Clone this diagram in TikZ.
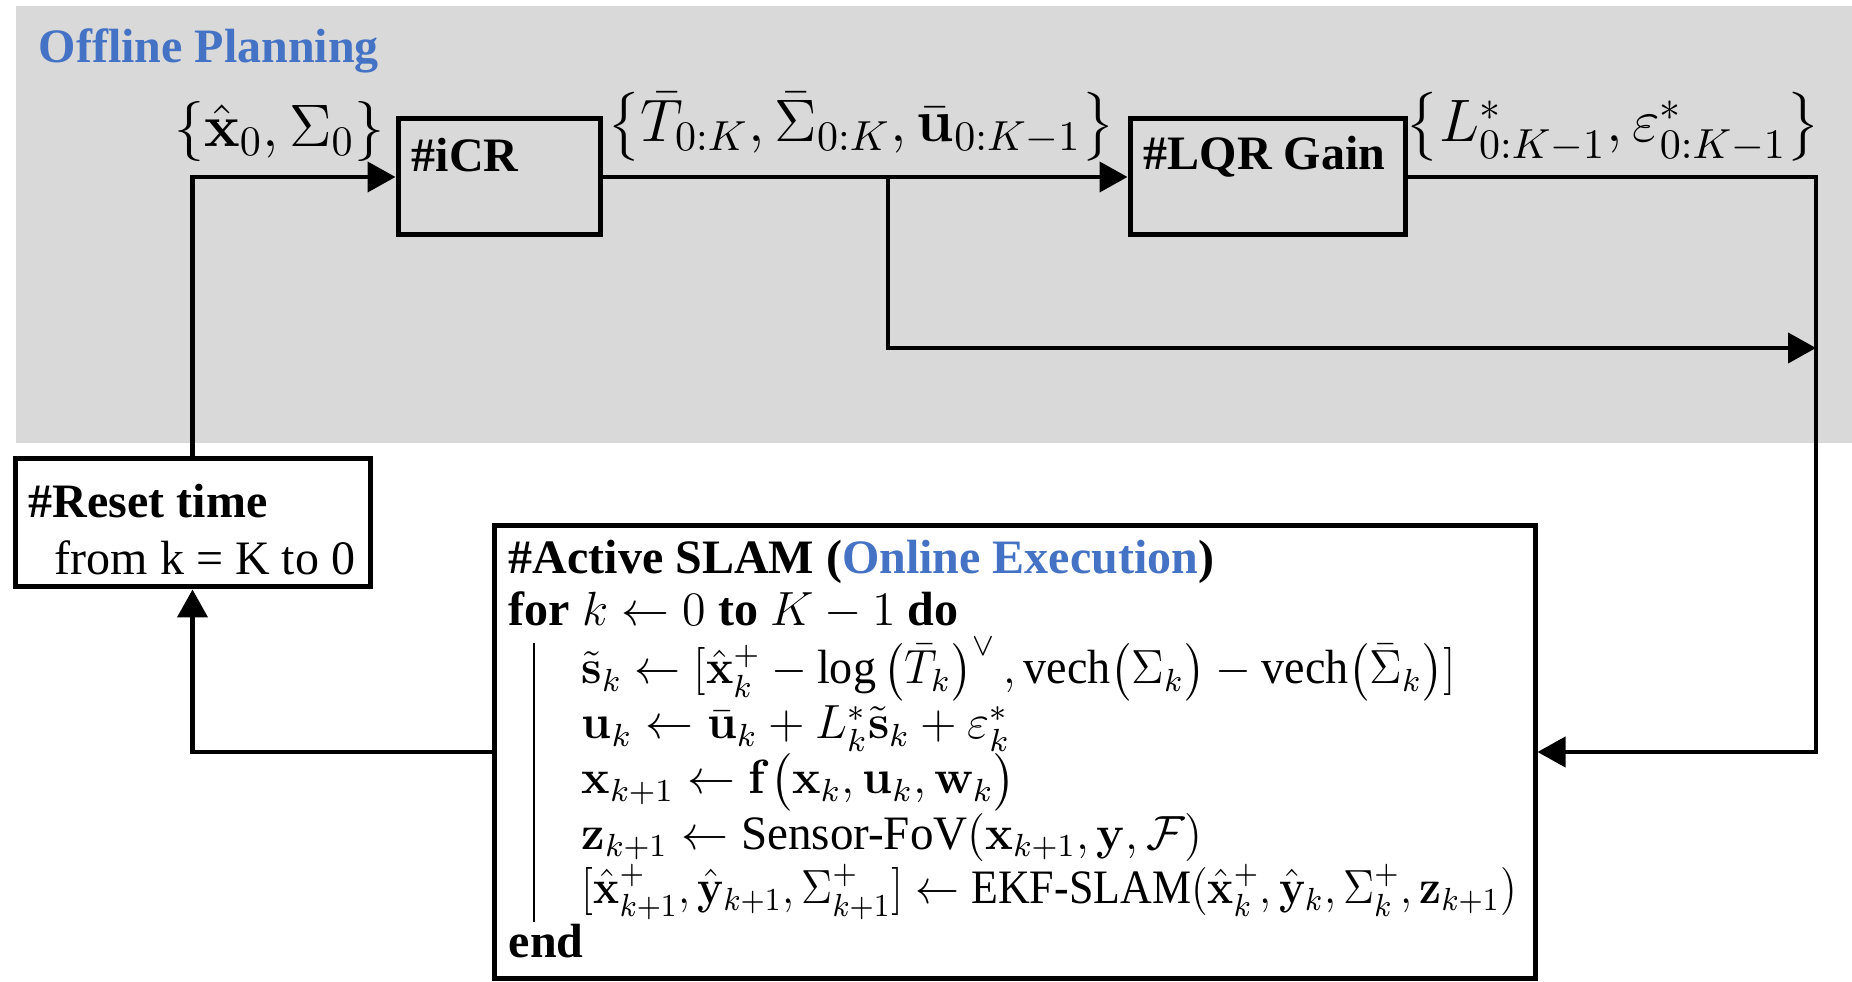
\documentclass[tikz,border=0pt]{standalone}
\usepackage{fix-cm}
\usepackage{amsmath}
\usepackage{graphicx}
\usepackage[no-math]{fontspec}
\setmainfont{Liberation Serif}
\usetikzlibrary{arrows.meta}
\definecolor{ofblue}{RGB}{68,114,196}
\definecolor{bggray}{RGB}{217,217,217}
\begin{document}
\begin{tikzpicture}[x=0.25pt,y=-0.25pt,
  box/.style={draw=black,line width=1.25pt,inner sep=0pt},
  conn/.style={line width=1.05pt},
  arr/.style={conn,-{Triangle[length=7pt,width=7.5pt]}},
  txt/.style={inner sep=0pt,anchor=base west,font=\fontsize{12pt}{14pt}\selectfont},
  lbl/.style={inner sep=0pt,font=\fontsize{15pt}{18pt}\selectfont}]
\useasboundingbox (0,0) rectangle (1852,982);
\fill[bggray] (16,6) rectangle (1852,443);
\node[txt,text=ofblue] (offtitle) at (38,63) {\bfseries Offline Planning};
% boxes
\node[box,minimum width=50.5pt,minimum height=29pt] (icr) at (499,177) {};
\node[box,minimum width=68.75pt,minimum height=29pt] (lqr) at (1267.5,177) {};
\node[box,fill=white,minimum width=88.75pt,minimum height=32pt] (reset) at (192.5,523) {};
\node[box,fill=white,minimum width=260.25pt,minimum height=113pt] (slam) at (1014.5,752) {};
% box texts
\node[txt] (icrtxt) at (411,172) {\bfseries\#iCR};
\node[txt] (lqrtxt) at (1143,170) {\bfseries\#LQR Gain};
\node[txt] (resettxt) at (28,518) {\bfseries\#Reset time};
\node[txt] (resetfrom) at (54,575) {from k = K to 0};
\node[txt] (slamtitle) at (508,574) {\bfseries\#Active SLAM (\textcolor{ofblue}{Online Execution})};
\node[txt] (slamfor) at (508,626) {\textbf{for} $k \leftarrow 0$ \textbf{to} $K-1$ \textbf{do}};
\node[txt] (ls) at (581,684) {\scalebox{0.96}[1]{$\tilde{\mathbf{s}}_k \leftarrow [\hat{\mathbf{x}}_k^{+} - \text{log}\left(\bar{T}_k\right)^{\vee}, \text{vech}\bigl(\Sigma_k\bigr) - \text{vech}\bigl(\bar{\Sigma}_k\bigr)]$}};
\node[txt] (lu) at (581,739) {$\mathbf{u}_k \leftarrow \bar{\mathbf{u}}_k + L_k^{*}\tilde{\mathbf{s}}_k + \varepsilon_k^{*}$};
\node[txt] (lx) at (581,794) {$\mathbf{x}_{k+1} \leftarrow \mathbf{f}\bigl(\mathbf{x}_k, \mathbf{u}_k, \mathbf{w}_k\bigr)$};
\node[txt] (lz) at (581,849) {\scalebox{0.98}[1]{$\mathbf{z}_{k+1} \leftarrow \text{Sensor-FoV}(\mathbf{x}_{k+1}, \mathbf{y}, \mathcal{F})$}};
\node[txt] (lekf) at (581,903) {\scalebox{0.915}[1]{$[\hat{\mathbf{x}}_{k+1}^{+}, \hat{\mathbf{y}}_{k+1}, \Sigma_{k+1}^{+}] \leftarrow \text{EKF-SLAM}(\hat{\mathbf{x}}_k^{+}, \hat{\mathbf{y}}_k, \Sigma_k^{+}, \mathbf{z}_{k+1})$}};
\node[txt] (slamend) at (508,958) {\bfseries end};
\coordinate (bartop) at (534,643);
\coordinate (barbot) at (534,922);
\draw[line width=0.5pt] (bartop) -- (barbot);
% labels
\node[lbl] (lin) at (279.5,132) {$\left\{\hat{\mathbf{x}}_0,\Sigma_0\right\}$};
\node[lbl] (lmid) at (861,127) {$\left\{\bar{T}_{0:K},\bar{\Sigma}_{0:K},\bar{\mathbf{u}}_{0:K-1}\right\}$};
\node[lbl] (lout) at (1613,127) {$\left\{L^{*}_{0:K-1},\varepsilon^{*}_{0:K-1}\right\}$};
% connectors
\coordinate (br) at (888,177);
\coordinate (brend) at (1816,348);
\coordinate (rc) at (1816,177);
\draw[arr] (reset.north) |- (icr.west);
\draw[arr] (icr.east) -- (lqr.west);
\draw[arr] (br) |- (brend);
\draw[arr] (lqr.east) -- (rc) |- (slam.east);
\draw[arr] (slam.west) -| (reset.south);
\end{tikzpicture}
\end{document}
